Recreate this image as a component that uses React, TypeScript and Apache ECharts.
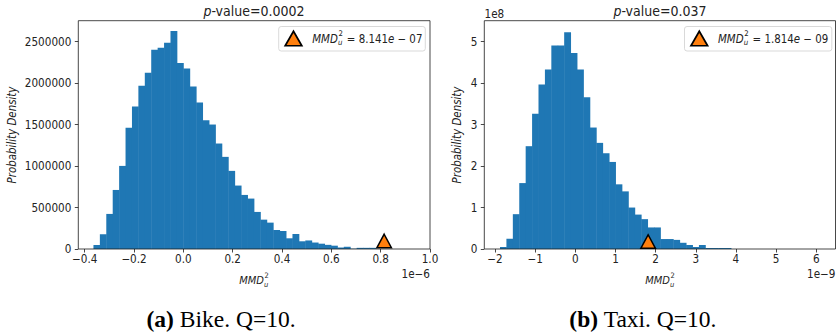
import React, { useEffect, useRef } from "react";
import * as echarts from "echarts";

// Histogram of the MMD^2_u null distribution, Bike dataset (x in units of 1e-6)
const bikeBinStart = -0.3646;
const bikeBinWidth = 0.02603;
const bikeDensity = [
  48000, 177000, 423000, 712000, 1002000, 1461000, 1718000, 1969000, 2126000,
  2403000, 2427000, 2488000, 2629000, 2243000, 2178000, 1960000, 1767000,
  1554000, 1501000, 1272000, 1111000, 942000, 765000, 652000, 608000, 447000,
  354000, 318000, 229000, 217000, 129000, 181000, 93000, 103000, 78000, 64000,
  50000, 40000, 18000, 27000, 4000, 14000, 14000, 14000,
];
const bikeObserved = 0.8141; // 8.141e-07
const bikeMarkerY = 97000;
const bikeXTicks = [-0.4, -0.2, 0.0, 0.2, 0.4, 0.6, 0.8, 1.0];
const bikeYTicks = [0, 500000, 1000000, 1500000, 2000000, 2500000];

// Histogram of the MMD^2_u null distribution, Taxi dataset (x in 1e-9, y in 1e8)
const taxiBinStart = -1.875;
const taxiBinWidth = 0.1598;
const taxiDensity = [
  0.048, 0.25, 0.84, 1.59, 2.48, 3.26, 3.97, 4.33, 4.91, 4.91, 5.23, 4.73,
  4.33, 3.66, 2.93, 2.56, 2.31, 2.1, 1.56, 1.39, 1.0, 0.83, 0.72, 0.52, 0.52,
  0.24, 0.24, 0.22, 0.15, 0.096, 0.048, 0.096, 0.024, 0.024, 0.024, 0.024,
];
const taxiObserved = 1.814; // 1.814e-09
const taxiMarkerY = 0.18;
const taxiXTicks = [-2, -1, 0, 1, 2, 3, 4, 5, 6];
const taxiYTicks = [0, 1, 2, 3, 4, 5];

const FONT = "'DejaVu Sans Condensed', 'DejaVu Sans', sans-serif";
const SERIF = "'Liberation Serif', 'Times New Roman', serif";
const BLUE = "#1f77b4";
const ORANGE = "#ff7f0e";
const INK = "#1a1a1a";
const TXT = "#222";
const TICK_SIZE = 11.6;

const minus = (s: string) => s.replace("-", "\u2212");

function measure(text: string, font: string): number {
  const ctx = document.createElement("canvas").getContext("2d");
  if (!ctx) return text.length * 6;
  ctx.font = font;
  return ctx.measureText(text).width;
}

function bins(start: number, width: number, heights: number[]) {
  return heights.map((h, i) => [start + i * width, start + (i + 1) * width, h]);
}

// "MMD" with stacked superscript 2 and subscript u, optionally followed by more text
function mmdText(x: number, y: number, size: number, tail?: string, center = false) {
  const itFont = `italic ${size}px ${FONT}`;
  const wM = measure("MMD", itFont);
  const small = size * 0.68;
  const wS = measure("2", `${small}px ${FONT}`);
  let tailW = 0;
  if (tail) tailW = measure(tail, `${size}px ${FONT}`) + size * 0.3;
  const total = wM + 0.6 + wS + tailW;
  const x0 = center ? x - total / 2 : x;
  const children: any[] = [
    {
      type: "text",
      x: x0,
      y,
      style: { text: "MMD", fontStyle: "italic", fontSize: size, fontFamily: FONT, fill: TXT, verticalAlign: "middle" },
    },
    {
      type: "text",
      x: x0 + wM + 0.6,
      y: y - size * 0.42,
      style: { text: "2", fontSize: small, fontFamily: FONT, fill: TXT, verticalAlign: "middle" },
    },
    {
      type: "text",
      x: x0 + wM + 0.2,
      y: y + size * 0.37,
      style: { text: "u", fontStyle: "italic", fontSize: small, fontFamily: FONT, fill: TXT, verticalAlign: "middle" },
    },
  ];
  if (tail) {
    children.push({
      type: "text",
      x: x0 + wM + 0.6 + wS + size * 0.35,
      y,
      style: {
        text: tail.replace("e", "{i|e}"),
        fontSize: size,
        fontFamily: FONT,
        fill: TXT,
        verticalAlign: "middle",
        rich: { i: { fontStyle: "italic", fontSize: size, fontFamily: FONT, fill: TXT } },
      },
    });
  }
  return { type: "group", children };
}

function legend(x: number, y: number, w: number, h: number, value: string) {
  const cx = x + 14.8;
  const cy = y + h / 2;
  return {
    type: "group",
    children: [
      {
        type: "rect",
        shape: { x, y, width: w, height: h, r: 2.5 },
        style: { fill: "rgba(255,255,255,0.85)", stroke: "#cfcfcf", lineWidth: 0.8 },
      },
      {
        type: "polygon",
        shape: { points: [[cx, cy - 7.5], [cx - 8.3, cy + 7], [cx + 8.3, cy + 7]] },
        style: { fill: ORANGE, stroke: "#000", lineWidth: 1.7 },
      },
      mmdText(x + 33.5, cy, 11.4, "= " + value),
    ],
  };
}

function histRender(params: any, api: any) {
  const p0 = api.coord([api.value(0), api.value(2)]);
  const p1 = api.coord([api.value(1), 0]);
  return {
    type: "rect",
    shape: { x: p0[0], y: p0[1], width: p1[0] - p0[0] + 0.45, height: p1[1] - p0[1] },
    style: { fill: BLUE },
  };
}

function xAxis(gridIndex: number, min: number, max: number, ticks: number[], fmt: (v: number) => string) {
  return {
    gridIndex,
    type: "value",
    min,
    max,
    z: 10,
    axisLine: { show: false, onZero: false },
    splitLine: { show: false },
    axisTick: { show: true, length: 3.5, lineStyle: { color: INK, width: 0.8 }, customValues: ticks },
    axisLabel: { customValues: ticks, formatter: fmt, fontSize: TICK_SIZE, fontFamily: FONT, color: TXT, margin: 3.5 },
  };
}

function yAxis(gridIndex: number, max: number, ticks: number[]) {
  return {
    gridIndex,
    type: "value",
    min: 0,
    max,
    z: 10,
    axisLine: { show: false, onZero: false },
    splitLine: { show: false },
    axisTick: { show: true, length: 3.5, lineStyle: { color: INK, width: 0.8 }, customValues: ticks },
    axisLabel: {
      customValues: ticks,
      formatter: (v: number) => String(v),
      fontSize: TICK_SIZE,
      fontFamily: FONT,
      color: TXT,
      margin: 7,
    },
  };
}

export default function App() {
  const ref = useRef<HTMLDivElement>(null);

  useEffect(() => {
    if (!ref.current) return;
    const chart = echarts.init(ref.current, undefined, { renderer: "svg" });

    const gridStyle = { show: true, borderColor: INK, borderWidth: 0.8, backgroundColor: "transparent", z: 5 };
    const title = (x: number, value: string) => ({
      type: "text",
      x,
      y: 10.5,
      style: {
        text: "{i|p}-value=" + value,
        fontSize: 14,
        fontFamily: FONT,
        fill: TXT,
        align: "center",
        verticalAlign: "middle",
        rich: { i: { fontStyle: "italic", fontSize: 14, fontFamily: FONT, fill: TXT } },
      },
    });
    const yLabel = (x: number) => ({
      type: "text",
      x,
      y: 135,
      rotation: Math.PI / 2,
      style: {
        text: "Probability Density",
        fontStyle: "italic",
        fontSize: 11.4,
        fontFamily: FONT,
        fill: TXT,
        align: "center",
        verticalAlign: "middle",
      },
    });
    const plain = (x: number, y: number, text: string, align: string, size: number, family = FONT) => ({
      type: "text",
      x,
      y,
      style: { text, fontSize: size, fontFamily: family, fill: TXT, align, verticalAlign: "middle" },
    });
    const caption = (x: number, label: string, rest: string) => ({
      type: "text",
      x,
      y: 319,
      style: {
        text: `{b|(${label})} ${rest}`,
        fontSize: 23.5,
        fontFamily: SERIF,
        fill: "#000",
        align: "center",
        verticalAlign: "middle",
        rich: { b: { fontWeight: "bold", fontSize: 23.5, fontFamily: SERIF, fill: "#000" } },
      },
    });

    chart.setOption({
      animation: false,
      grid: [
        { left: 78.3, top: 20.7, width: 351.7, height: 228.3, ...gridStyle },
        { left: 484.3, top: 20.7, width: 351.2, height: 228.3, ...gridStyle },
      ],
      xAxis: [
        xAxis(0, -0.426, 1.0, bikeXTicks, (v: number) => minus(v.toFixed(1))),
        xAxis(1, -2.266, 6.48, taxiXTicks, (v: number) => minus(String(v))),
      ],
      yAxis: [yAxis(0, 2753000, bikeYTicks), yAxis(1, 5.507, taxiYTicks)],
      series: [
        {
          type: "custom",
          xAxisIndex: 0,
          yAxisIndex: 0,
          z: 2,
          renderItem: histRender,
          encode: { x: [0, 1], y: 2 },
          data: bins(bikeBinStart, bikeBinWidth, bikeDensity),
        },
        {
          type: "custom",
          xAxisIndex: 1,
          yAxisIndex: 1,
          z: 2,
          renderItem: histRender,
          encode: { x: [0, 1], y: 2 },
          data: bins(taxiBinStart, taxiBinWidth, taxiDensity),
        },
        {
          type: "scatter",
          xAxisIndex: 0,
          yAxisIndex: 0,
          z: 20,
          clip: false,
          symbol: "triangle",
          symbolSize: [14.5, 13.5],
          itemStyle: { color: ORANGE, borderColor: "#000", borderWidth: 1.5, opacity: 1 },
          data: [[bikeObserved, bikeMarkerY]],
        },
        {
          type: "scatter",
          xAxisIndex: 1,
          yAxisIndex: 1,
          z: 20,
          clip: false,
          symbol: "triangle",
          symbolSize: [14.5, 13.5],
          itemStyle: { color: ORANGE, borderColor: "#000", borderWidth: 1.5, opacity: 1 },
          data: [[taxiObserved, taxiMarkerY]],
        },
      ],
      graphic: [
        title(254, "0.0002"),
        title(660, "0.037"),
        yLabel(12),
        yLabel(457),
        mmdText(254, 280, 11, undefined, true),
        mmdText(660, 280, 11, undefined, true),
        plain(430, 273.8, "1e\u22126", "right", TICK_SIZE),
        plain(835.5, 273.8, "1e\u22129", "right", TICK_SIZE),
        plain(484.5, 13.5, "1e8", "left", TICK_SIZE),
        { ...legend(278.7, 26.5, 146.6, 24.5, "8.141e \u2212 07"), z: 30 },
        { ...legend(684.5, 26.5, 147.3, 24.5, "1.814e \u2212 09"), z: 30 },
        caption(221, "a", "Bike. Q=10."),
        caption(643, "b", "Taxi. Q=10."),
      ],
    });

    return () => chart.dispose();
  }, []);

  return (
    <div
      ref={ref}
      style={{ position: "fixed", left: 0, top: 0, width: 836, height: 335, background: "#fff" }}
    />
  );
}
